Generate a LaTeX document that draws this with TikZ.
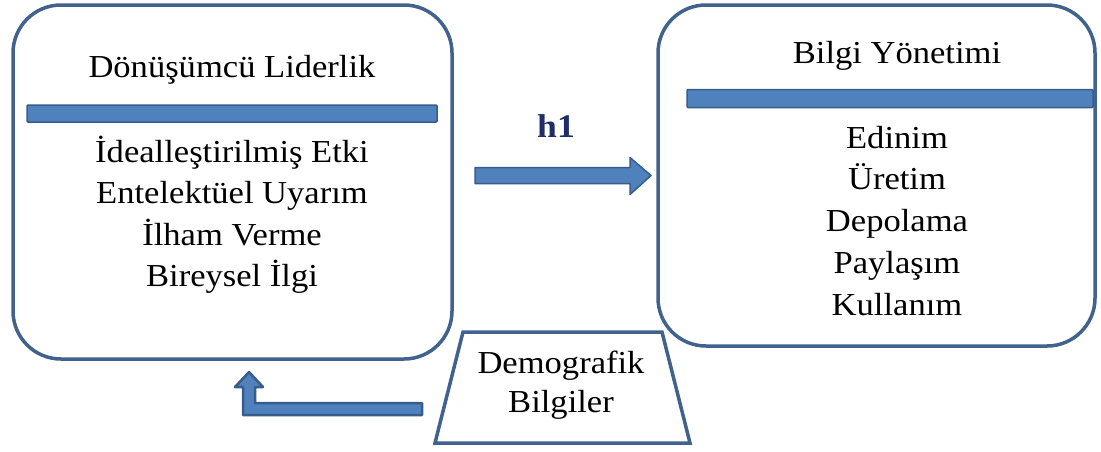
\documentclass[tikz,border=0pt]{standalone}
\usepackage{fontspec}
\setmainfont{Liberation Serif}[FakeStretch=1.08]
\usetikzlibrary{calc}
\definecolor{boxline}{HTML}{41628C}
\definecolor{barfill}{HTML}{4F81BD}
\definecolor{barline}{HTML}{385D8A}
\definecolor{hnavy}{HTML}{1F2E66}
\tikzset{
  mainbox/.style={draw=boxline, line width=3.5pt, rounded corners=48pt, inner sep=0pt, fill=white},
  barbox/.style={draw=barline, fill=barfill, line width=1.5pt, rounded corners=1pt, inner sep=0pt},
  txt/.style={font=\fontsize{32}{40}\selectfont, text=black, inner sep=0pt, anchor=base},
  blockarrow/.style={draw=barline, fill=barfill, line width=1.5pt, line join=round},
  bentarrow/.style={draw=barline, fill=barfill, line width=2.5pt, line join=round},
  trap/.style={draw=boxline, line width=3.5pt, line join=miter}
}
\begin{document}
\begin{tikzpicture}[x=1pt,y=-1pt]
\useasboundingbox[fill=white] (0,0) rectangle (1101,451);
% boxes
\node[mainbox, minimum width=439pt, minimum height=354pt] (L) at (232.5,182) {};
\node[mainbox, minimum width=437pt, minimum height=341pt] (R) at (876.5,175.5) {};
% bars
\node[barbox, minimum width=410pt, minimum height=17pt] (Lbar) at (232,113.5) {};
\node[barbox, minimum width=406pt, minimum height=18pt] (Rbar) at (890,98.5) {};
% titles
\node[txt] (Lt) at (232,77) {Dönüşümcü Liderlik};
\node[txt] (Rt) at (897,63) {Bilgi Yönetimi};
% left items
\node[txt] (L1) at (232,162) {İdealleştirilmiş Etki};
\node[txt] (L2) at (232,203) {Entelektüel Uyarım};
\node[txt] (L3) at (232,245) {İlham Verme};
\node[txt] (L4) at (232,286) {Bireysel İlgi};
% right items
\node[txt] (R1) at (897,148) {Edinim};
\node[txt] (R2) at (897,189) {Üretim};
\node[txt] (R3) at (897,231) {Depolama};
\node[txt] (R4) at (897,273) {Paylaşım};
\node[txt] (R5) at (897,315) {Kullanım};
% h1 arrow
\node[font=\bfseries\fontsize{33}{40}\selectfont, text=hnavy, inner sep=0pt, anchor=base] (h1) at (556,137) {h1};
\coordinate (hs) at (475,175.5);
\coordinate (he) at (651,175.5);
\filldraw[blockarrow] ($(hs)+(0,-8)$) -- ($(he)+(-21,-8)$) -- ($(he)+(-21,-18)$) -- (he)
  -- ($(he)+(-21,19)$) -- ($(he)+(-21,8)$) -- ($(hs)+(0,8)$) -- cycle;
% demographic trapezoid
\draw[trap] (463,332) -- (662,332) -- (690,443) -- (435,443) -- cycle;
\node[txt] (D1) at (561,373) {Demografik};
\node[txt] (D2) at (561,412) {Bilgiler};
\node[inner sep=0pt] (D) at (562,387) {};
% bent arrow
\coordinate (bs) at (422,409);
\coordinate (bt) at (249,372);
\filldraw[bentarrow] ($(bs)+(0,-6)$) -- (255,403) -- (255,387) -- (263,387) -- (bt)
  -- (235,387) -- (243,387) -- (243,415) -- ($(bs)+(0,6)$) -- cycle;
\end{tikzpicture}
\end{document}
